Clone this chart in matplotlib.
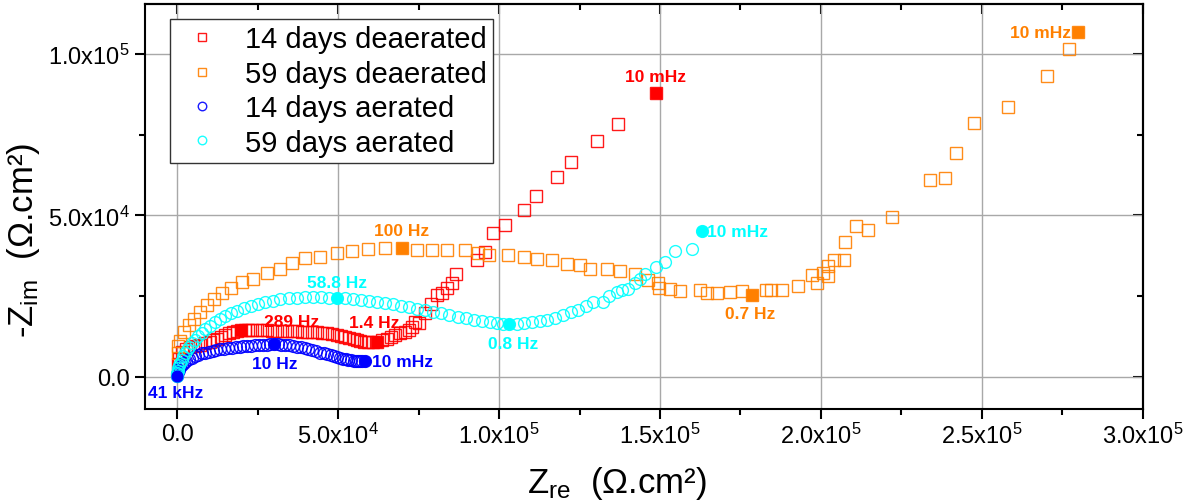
import numpy as np
import matplotlib
matplotlib.use('Agg')
import matplotlib.pyplot as plt
from matplotlib.ticker import MultipleLocator, FuncFormatter

plt.rcParams['font.family'] = ['Liberation Sans', 'DejaVu Sans']
plt.rcParams['mathtext.fontset'] = 'custom'
plt.rcParams['mathtext.rm'] = 'Liberation Sans'
plt.rcParams['mathtext.it'] = 'Liberation Sans'

# values in kOhm.cm2
red_zre = [0.3, 0.6, 1.5, 2.7, 4.0, 5.5, 7.1, 8.6, 10.2, 11.2, 12.3, 13.6, 14.9, 16.2, 17.5, 18.7,
           19.9, 21.0, 22.1, 23.4, 24.8, 26.3, 27.9, 29.4, 31.0, 32.6, 34.1, 35.6, 37.2, 38.7, 40.3,
           41.8, 43.4, 45.0, 46.5, 48.0, 49.6, 50.9, 52.2, 53.5, 54.8, 55.8, 56.8, 58.1, 59.4, 60.8,
           62.2, 63.6, 65.1, 66.4, 67.7, 69.3, 70.8, 71.9, 72.9, 74.0, 75.0, 77.0, 79.0, 80.6, 82.2,
           83.8, 85.3, 86.7, 93.1, 95.7, 98.2, 101.9, 107.6, 111.4, 117.9, 122.3, 130.3, 137.1, 148.7]
red_zim = [4.0, 5.6, 7.7, 8.5, 9.2, 9.5, 9.7, 10.3, 10.8, 11.3, 11.8, 12.3, 12.8, 13.4, 13.9, 14.3,
           14.6, 14.5, 14.4, 14.4, 14.4, 14.4, 14.4, 14.3, 14.3, 14.2, 14.1, 14.1, 14.1, 14.0, 13.9,
           13.9, 13.9, 13.6, 13.4, 13.1, 12.8, 12.5, 12.3, 12.0, 11.8, 11.4, 11.0, 10.9, 10.8, 10.8,
           10.8, 11.3, 11.8, 12.3, 12.8, 13.4, 13.9, 14.6, 15.4, 17.0, 16.5, 19.6, 22.5, 25.3, 25.8,
           27.6, 28.9, 31.7, 36.2, 38.7, 44.4, 47.0, 51.6, 56.0, 61.9, 66.6, 73.1, 78.3, 87.9]

orange_zre = [0.3, 0.4, 0.9, 2.0, 3.6, 5.2, 7.1, 9.2, 11.3, 13.9, 16.8, 20.0, 23.7, 27.9, 32.0, 35.6,
              39.8, 44.4, 49.6, 54.3, 59.4, 64.6, 69.8, 74.5, 79.1, 83.8, 89.4, 93.6, 97.0, 102.9,
              107.6, 111.7, 116.4, 121.0, 125.2, 128.3, 133.5, 137.6, 142.3, 146.4, 149.5, 149.7,
              153.1, 156.2, 162.4, 164.5, 167.8, 171.8, 175.4, 178.5, 183.0, 184.4, 187.8, 193.0,
              198.7, 197.1, 200.6, 202.1, 202.3, 204.1, 207.0, 207.5, 210.8, 214.5, 222.0, 233.8,
              238.5, 241.9, 247.5, 258.0, 270.3, 277.0, 279.8]
orange_zim = [7.5, 9.5, 11.0, 13.9, 15.9, 18.0, 20.1, 22.1, 24.2, 25.8, 27.6, 29.2, 30.4, 32.0, 33.5,
              35.1, 36.7, 37.2, 38.2, 38.9, 39.6, 39.8, 39.8, 39.4, 39.2, 39.2, 39.2, 38.2, 37.7, 37.7,
              37.2, 36.5, 36.2, 35.0, 34.6, 33.4, 33.4, 32.8, 31.7, 30.0, 28.9, 27.6, 27.1, 26.5,
              26.8, 26.0, 26.0, 26.3, 26.5, 25.3, 26.8, 27.0, 27.0, 28.0, 28.9, 31.4, 32.2, 31.1,
              34.3, 36.2, 36.2, 41.8, 46.8, 45.6, 49.6, 61.1, 61.6, 69.3, 78.6, 83.5, 93.1, 101.7,
              106.7]

blue_zre = [0.0, 0.1, 0.3, 0.6, 1.0, 1.5, 2.1, 2.8, 3.6, 4.5, 5.5, 6.5, 7.6, 8.7, 9.8, 11.0, 12.2,
            13.4, 14.6, 15.8, 17.0, 18.2, 19.4, 20.6, 21.8, 23.0, 24.2, 25.4, 26.6, 27.8, 29.0, 30.0,
            31.2, 32.4, 33.6, 34.8, 36.0, 37.2, 38.4, 39.6, 40.8, 42.0, 43.2, 44.4, 45.5, 46.6, 47.7,
            48.7, 49.7, 50.6, 51.5, 52.4, 53.2, 54.0, 54.8, 55.5, 56.2, 56.8, 57.4, 58.4]
blue_zim = [0.2, 0.8, 1.5, 2.2, 2.9, 3.6, 4.2, 4.8, 5.4, 5.9, 6.4, 6.8, 7.2, 7.5, 7.8, 8.1, 8.3, 8.5,
            8.7, 8.9, 9.0, 9.2, 9.3, 9.4, 9.5, 9.6, 9.7, 9.8, 9.9, 9.9, 10.0, 10.0, 10.0, 9.9, 9.8,
            9.7, 9.5, 9.3, 9.1, 8.8, 8.5, 8.2, 7.9, 7.5, 7.2, 6.9, 6.6, 6.3, 6.0, 5.8, 5.6, 5.4, 5.2,
            5.1, 5.0, 4.9, 4.8, 4.8, 4.8, 4.8]

cyan_zre = [0.0, 0.1, 0.2, 0.4, 0.7, 1.0, 1.4, 1.9, 2.5, 3.1, 3.8, 4.6, 5.5, 6.5, 7.6, 8.8, 10.2,
            11.7, 13.3, 15.0, 16.8, 18.7, 20.7, 22.8, 25.0, 27.3, 29.7, 32.1, 34.6, 37.1, 39.6, 42.1,
            44.6, 47.1, 49.6, 52.1, 54.6, 57.1, 59.6, 62.1, 64.6, 67.1, 69.6, 72.1, 74.6, 77.1, 79.6,
            82.1, 84.6, 87.1, 89.6, 92.1, 94.6, 97.1, 99.3, 101.3, 103.2, 105.5, 107.8, 110.2, 112.6,
            115.0, 117.4, 119.8, 122.2, 124.6, 126.9, 129.3, 132.4, 134.3, 136.5, 138.1, 140.2,
            142.3, 143.8, 145.4, 148.8, 151.6, 154.7, 159.8, 163.0]
cyan_zim = [0.3, 1.0, 1.8, 2.6, 3.5, 4.4, 5.3, 6.3, 7.3, 8.3, 9.3, 10.3, 11.4, 12.5, 13.6, 14.7,
            15.8, 16.8, 17.8, 18.7, 19.6, 20.4, 21.2, 21.9, 22.5, 23.1, 23.6, 24.0, 24.3, 24.5, 24.6,
            24.6, 24.6, 24.5, 24.5, 24.3, 24.1, 23.8, 23.5, 23.2, 22.8, 22.4, 22.0, 21.5, 21.0, 20.6,
            20.1, 19.6, 19.1, 18.6, 18.1, 17.6, 17.2, 16.8, 16.5, 16.3, 16.2, 16.2, 16.5, 16.8, 17.2,
            17.7, 18.3, 19.0, 19.9, 20.8, 21.8, 23.2, 23.0, 25.0, 26.2, 26.8, 27.3, 28.9, 30.2, 31.7,
            34.1, 35.6, 38.9, 39.6, 45.0]

series_names = ['14 days deaerated', '59 days deaerated', '14 days aerated', '59 days aerated']

# labelled frequencies: (label, index of the point in the series)
red_marks = [('289 Hz', 16), ('1.4 Hz', 46), ('10 mHz', 74)]
orange_marks = [('100 Hz', 22), ('0.7 Hz', 49), ('10 mHz', 72)]
blue_marks = [('41 kHz', 0), ('10 Hz', 31), ('10 mHz', 59)]
cyan_marks = [('58.8 Hz', 34), ('0.8 Hz', 56), ('10 mHz', 80)]

c_red = '#ff0000'
c_orange = '#ff8000'
c_blue = '#0000ff'
c_cyan = '#00ffff'

fig = plt.figure(figsize=(11.92, 5.02), dpi=100)
ax = fig.add_axes([0.1216, 0.1833, 0.8372, 0.8068])

series = [
    (red_zre, red_zim, c_red, 's', 8.4, red_marks),
    (orange_zre, orange_zim, c_orange, 's', 8.4, orange_marks),
    (blue_zre, blue_zim, c_blue, 'o', 8.5, blue_marks),
    (cyan_zre, cyan_zim, c_cyan, 'o', 8.5, cyan_marks),
]

# label offsets in points (dx, dy, ha)
offsets = {
    (0, 0): (36, 6, 'center'), (0, 1): (-2, 14, 'center'), (0, 2): (0, 12, 'center'),
    (1, 0): (0, 13, 'center'), (1, 1): (-1, -13, 'center'), (1, 2): (-5, 0, 'right'),
    (2, 0): (-1, -12, 'center'), (2, 1): (1, -14, 'center'), (2, 2): (5, 0, 'left'),
    (3, 0): (0, 11, 'center'), (3, 1): (3, -14, 'center'), (3, 2): (4, 0, 'left'),
}

for i, (zre, zim, col, mk, ms, marks) in enumerate(series):
    x = np.array(zre) * 1000
    y = np.array(zim) * 1000
    ax.plot(x, y, linestyle='none', marker=mk, markersize=ms, markerfacecolor='none',
            markeredgecolor=col, markeredgewidth=1.0, alpha=0.9, label=series_names[i], zorder=3)
    for j, (txt, k) in enumerate(marks):
        ax.plot(x[k], y[k], linestyle='none', marker=mk, markersize=ms - 0.8, color=col, zorder=4)
        dx, dy, ha = offsets[(i, j)]
        ax.annotate(txt, (x[k], y[k]), xytext=(dx, dy), textcoords='offset points',
                    ha=ha, va='center', color=col, fontsize=12.5, fontweight='bold', zorder=5)

ax.set_xlim(-1e4, 3e5)
ax.set_ylim(-1e4, 1.155e5)


def sci(v, pos):
    if abs(v) < 1e-9:
        return '0.0'
    e = int(np.floor(np.log10(abs(v))))
    return r'$%.1f\mathrm{x}10^{%d}$' % (v / 10 ** e, e)


for axis in (ax.xaxis, ax.yaxis):
    axis.set_major_locator(MultipleLocator(5e4))
    axis.set_minor_locator(MultipleLocator(2.5e4))
    axis.set_major_formatter(FuncFormatter(sci))

ax.tick_params(which='major', direction='out', length=7, width=1.5, labelsize=17, pad=3)
ax.tick_params(which='minor', direction='out', length=4, width=1.5)
ax.tick_params(axis='y', pad=4)

top = ax.secondary_xaxis('top')
right = ax.secondary_yaxis('right')
for sec, axis in ((top, top.xaxis), (right, right.yaxis)):
    axis.set_major_locator(MultipleLocator(5e4))
    axis.set_minor_locator(MultipleLocator(2.5e4))
    sec.tick_params(which='major', direction='in', length=7, width=1.5)
    sec.tick_params(which='minor', direction='in', length=4, width=1.5)
    sec.tick_params(labeltop=False, labelright=False)
    for s in sec.spines.values():
        s.set_linewidth(1.5)

for s in ax.spines.values():
    s.set_linewidth(1.5)

ax.grid(True, which='major', color='#a8a8a8', linewidth=1.0, zorder=0)
ax.set_axisbelow(True)

ax.set_xlabel(r'$Z_{\mathrm{re}}$  (Ω.cm²)', fontsize=25)
ax.set_ylabel(r'-$Z_{\mathrm{im}}$  (Ω.cm²)', fontsize=25)
ax.xaxis.set_label_coords(0.473, -0.135)
ax.yaxis.set_label_coords(-0.103, 0.42)

leg = ax.legend(loc='upper left', bbox_to_anchor=(0.025, 0.963), borderaxespad=0,
                fontsize=21, markerscale=0.72, handlelength=1.75, handletextpad=0.6,
                labelspacing=0.22, borderpad=0.22, fancybox=False, framealpha=1)
leg.get_frame().set_edgecolor('#333333')
leg.get_frame().set_linewidth(1.0)

fig.savefig('out.png', dpi=100)
